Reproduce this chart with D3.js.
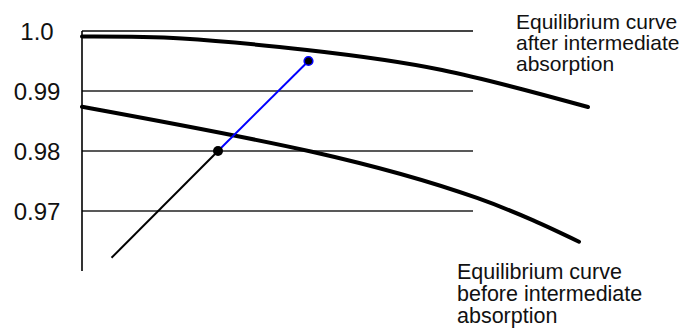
<!DOCTYPE html>
<html lang="en">
  <head>
    <meta charset="UTF-8" />
    <title>Equilibrium curves</title>
    <style type="text/css">
      body {
        margin: 0;
        background: #ffffff;
        font-family: "Liberation Sans", Arial, Helvetica, sans-serif;
      }
      svg {
        display: block;
      }
      .grid-line {
        stroke: #222222;
        stroke-width: 1.3px;
      }
      .curve {
        fill: none;
        stroke: #000000;
        stroke-width: 4px;
        stroke-linecap: round;
      }
    </style>
  </head>
  <body>
    <script src="https://cdn.jsdelivr.net/npm/d3@7"></script>
    <script>
      // y ticks (gridlines) and their labels
      var yTicks = [1.0, 0.99, 0.98, 0.97];
      var yTickLabels = ["1.0", "0.99", "0.98", "0.97"];

      // equilibrium curve after intermediate absorption
      var afterX = [0, 20, 45, 72, 101.2];
      var afterY = [0.99907, 0.99875, 0.99683, 0.9935, 0.98733];

      // equilibrium curve before intermediate absorption
      var beforeX = [0, 46, 79, 99.4];
      var beforeY = [0.98738, 0.97988, 0.97217, 0.96488];

      // operating line: before and after intermediate absorption
      var opBeforeX = [5.9, 27.2];
      var opBeforeY = [0.9622, 0.98];
      var opAfterX = [27.2, 45.3];
      var opAfterY = [0.98, 0.995];

      var afterLabel = ["Equilibrium curve", "after intermediate", "absorption"];
      var beforeLabel = ["Equilibrium curve", "before intermediate", "absorption"];

      var width = 690;
      var height = 331;
      var gridEnd = 78.2;

      var x = d3.scaleLinear().domain([0, 100]).range([82, 582]);
      var y = d3.scaleLinear().domain([0.96, 1.0]).range([271, 31]);

      var svg = d3
        .select("body")
        .append("svg")
        .attr("width", width)
        .attr("height", height);

      // gridlines
      svg
        .append("g")
        .selectAll(".grid-line")
        .data(yTicks)
        .join("line")
        .attr("class", "grid-line")
        .attr("x1", x(0))
        .attr("x2", x(gridEnd))
        .attr("y1", (d) => y(d))
        .attr("y2", (d) => y(d))
        .style("stroke", (d, i) => (i == 0 ? "#444444" : null))
        .style("stroke-width", (d, i) => (i == 0 ? "1.8px" : null));

      // y axis line
      svg
        .append("line")
        .attr("x1", x(0))
        .attr("x2", x(0))
        .attr("y1", y(1.0))
        .attr("y2", y(0.96))
        .attr("stroke", "#000")
        .attr("stroke-width", 1.6);

      // tick labels
      svg
        .append("g")
        .selectAll("text")
        .data(yTicks)
        .join("text")
        .attr("x", 37)
        .attr("y", (d) => y(d))
        .attr("dy", "0.36em")
        .attr("text-anchor", "middle")
        .attr("font-size", 24)
        .attr("fill", "#111")
        .text((d, i) => yTickLabels[i]);

      var line = d3
        .line()
        .x((d) => x(d[0]))
        .y((d) => y(d[1]))
        .curve(d3.curveNatural);

      svg
        .append("path")
        .attr("class", "curve")
        .attr("d", line(d3.zip(afterX, afterY)));

      svg
        .append("path")
        .attr("class", "curve")
        .attr("d", line(d3.zip(beforeX, beforeY)));

      var straight = d3
        .line()
        .x((d) => x(d[0]))
        .y((d) => y(d[1]));

      svg
        .append("path")
        .attr("fill", "none")
        .attr("stroke", "#000")
        .attr("stroke-width", 2)
        .attr("d", straight(d3.zip(opBeforeX, opBeforeY)));

      svg
        .append("path")
        .attr("fill", "none")
        .attr("stroke", "#0000ff")
        .attr("stroke-width", 2)
        .attr("d", straight(d3.zip(opAfterX, opAfterY)));

      svg
        .append("circle")
        .attr("cx", x(opBeforeX[1]))
        .attr("cy", y(opBeforeY[1]))
        .attr("r", 5)
        .attr("fill", "#000");

      svg
        .append("circle")
        .attr("cx", x(opAfterX[1]))
        .attr("cy", y(opAfterY[1]))
        .attr("r", 4.3)
        .attr("fill", "#000")
        .attr("stroke", "#0000ff")
        .attr("stroke-width", 1.6);

      // annotations
      svg
        .append("text")
        .attr("font-size", 21)
        .attr("fill", "#111")
        .selectAll("tspan")
        .data(afterLabel)
        .join("tspan")
        .attr("x", 516)
        .attr("y", (d, i) => 29 + i * 21)
        .text((d) => d);

      svg
        .append("text")
        .attr("font-size", 21.5)
        .attr("fill", "#111")
        .selectAll("tspan")
        .data(beforeLabel)
        .join("tspan")
        .attr("x", 457)
        .attr("y", (d, i) => 279 + i * 22)
        .text((d) => d);
    </script>
  </body>
</html>
